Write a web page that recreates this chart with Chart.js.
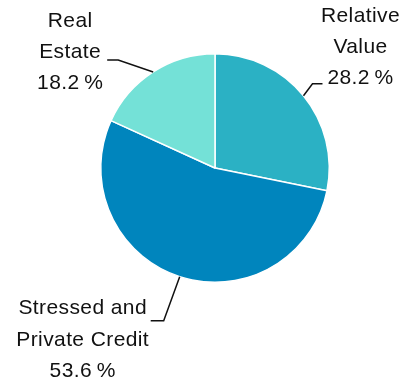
<!DOCTYPE html>
<html>
<head>
<meta charset="utf-8">
<script src="https://cdn.jsdelivr.net/npm/chart.js@4/dist/chart.umd.min.js"></script>
<style>
  html, body { margin: 0; padding: 0; background: #fff; }
  #wrap { width: 407px; height: 383px; }
</style>
</head>
<body>
<div id="wrap"><canvas id="pieChart" width="407" height="383"></canvas></div>
<script>
// ---- data ----
var labels = [['Relative', 'Value'], ['Stressed and', 'Private Credit'], ['Real', 'Estate']];
var shares = [28.2, 53.6, 18.2];
var colors = ['#2bb1c4', '#0085bd', '#74e1d7'];

// leader line geometry per slice: elbow offset from slice edge, tail length, text offset from tail end
var leaders = [
  { ex: 9, ey: -12, tail: 10, tx: 38, ty: -68 },
  { ex: -16, ey: 44, tail: -13, tx: -68, ty: -12 },
  { ex: -35, ey: -12, tail: -11, tx: -37, ty: -39 }
];

var FONT = '21px "Liberation Sans", Arial, sans-serif';
var LINE_H = 31.3;

var leaderLabels = {
  id: 'leaderLabels',
  afterDatasetsDraw: function (chart) {
    var ctx = chart.ctx;
    var meta = chart.getDatasetMeta(0);
    ctx.save();
    ctx.font = FONT;
    ctx.letterSpacing = '0.4px';
    ctx.fillStyle = '#111';
    ctx.strokeStyle = '#111';
    ctx.lineWidth = 1.5;
    ctx.textAlign = 'center';
    ctx.textBaseline = 'middle';
    meta.data.forEach(function (arc, i) {
      var p = arc.getProps(['x', 'y', 'startAngle', 'endAngle', 'outerRadius'], true);
      var mid = (p.startAngle + p.endAngle) / 2;
      var sx = p.x + Math.cos(mid) * p.outerRadius;
      var sy = p.y + Math.sin(mid) * p.outerRadius;
      var L = leaders[i];
      var bx = sx + L.ex, by = sy + L.ey;
      var tx = bx + L.tail;
      ctx.beginPath();
      ctx.moveTo(sx, sy);
      ctx.lineTo(bx, by);
      ctx.lineTo(tx, by);
      ctx.stroke();
      var lines = labels[i].concat([shares[i].toFixed(1) + '\u2009%']);
      var cx = tx + L.tx, y0 = by + L.ty;
      lines.forEach(function (t, k) { ctx.fillText(t, cx, y0 + k * LINE_H); });
    });
    ctx.restore();
  }
};

new Chart(document.getElementById('pieChart').getContext('2d'), {
  type: 'pie',
  data: {
    labels: labels.map(function (l) { return l.join(' '); }),
    datasets: [{
      data: shares,
      backgroundColor: colors,
      borderColor: '#ffffff',
      borderWidth: 1.5
    }]
  },
  options: {
    responsive: false,
    animation: false,
    layout: { padding: { left: 100, right: 77, top: 53, bottom: 100 } },
    plugins: { legend: { display: false }, tooltip: { enabled: false } }
  },
  plugins: [leaderLabels]
});
</script>
</body>
</html>
